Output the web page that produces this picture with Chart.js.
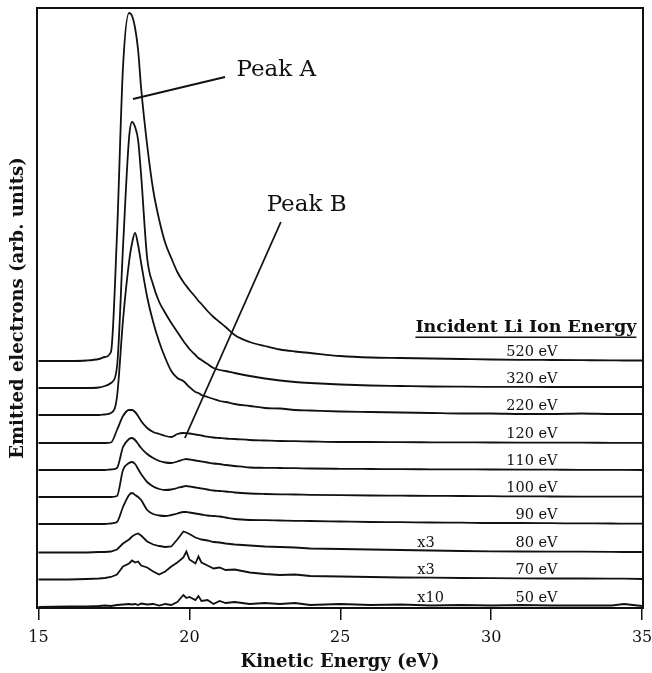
<!DOCTYPE html>
<html>
<head>
<meta charset="utf-8">
<script src="https://cdn.jsdelivr.net/npm/chart.js@4.4.1/dist/chart.umd.min.js"></script>
<style>
  body { margin: 0; background: #fff; }
  #wrap { width: 652px; height: 673px; }
</style>
</head>
<body>
<div id="wrap"><canvas id="spectra"></canvas></div>
<script>
// kinetic energy grid (eV), shared by every spectrum
var energy = [15, 16, 16.6, 17.0, 17.2, 17.4, 17.6, 17.8, 18.0, 18.1, 18.2, 18.3, 18.4, 18.6, 18.8, 19.0, 19.2, 19.4, 19.6, 19.8,
              19.9, 20.0, 20.2, 20.3, 20.4, 20.6, 20.8, 21.0, 21.2, 21.5, 22, 22.5, 23, 23.5, 24, 25, 26, 27, 28, 29,
              30, 31, 32, 33, 34, 34.4, 35];

// incident Li ion energies, top to bottom
var ionLabels = ['520 eV', '320 eV', '220 eV', '120 eV', '110 eV', '100 eV', '90 eV', '80 eV', '70 eV', '50 eV'];
var scaleLabels = ['', '', '', '', '', '', '', 'x3', 'x3', 'x10'];
// waterfall offset of each spectrum (arb. units)
var offsets = [247, 220, 193, 165, 138, 111, 84, 55.5, 28.5, 1];
// smooth traces get a monotone curve, noisy ones stay straight
var smooth = [true, true, true, true, true, true, true, false, false, false];

// emitted electron intensity (arb. units), one array per ion energy
var s520 = [0, 0, 0.5, 2, 4, 9, 126, 294, 348, 345, 333, 311, 273, 216, 171, 141, 118, 103, 89, 79,
            75, 71, 64, 60, 57, 50, 44, 39, 34, 26, 19, 15, 11.5, 9.5, 8, 5, 3.5, 3, 2.5, 2,
            1.5, 1.2, 1, 0.8, 0.6, 0.5, 0.5];
var s320 = [0, 0, 0, 0.5, 2, 5, 21, 141, 250, 266, 261, 248, 213, 130, 103, 86, 75, 65, 56, 47,
            43, 39, 33, 30, 28, 24, 20, 18, 17, 15, 12, 9.5, 7.5, 6, 5, 3.5, 2.5, 2, 1.5, 1.3,
            1.2, 1.1, 1, 1, 1, 1, 1];
var s220 = [0, 0, 0, 0, 0.5, 2, 18, 95, 153, 172, 182, 170, 152, 118, 93, 73, 57, 44, 37, 34,
            31, 28, 23, 22, 20, 18, 16, 14, 13, 11, 9, 7, 6.5, 5, 4.5, 3.5, 3, 2.5, 2, 1.5,
            1.5, 1, 1, 1.5, 1, 1, 1];
var s120 = [0, 0, 0, 0, 0, 0.5, 13, 27, 33, 33, 31, 27, 22, 15, 11, 9, 7, 6, 9, 10,
            9.8, 9.5, 8.5, 8, 7.5, 6.3, 5.5, 5, 4.5, 4, 3, 2.5, 2, 1.8, 1.5, 1, 1, 0.8, 0.7, 0.6,
            0.5, 0.4, 0.3, 0.3, 0.2, 0.2, 0.2];
var s110 = [0, 0, 0, 0, 0, 0.5, 2, 23, 31, 32, 30, 26, 22, 16, 12, 9, 7.5, 7, 8.5, 10.5,
            11, 10.5, 9.5, 9, 8.5, 7.5, 6.5, 6, 5, 4, 2.5, 2.2, 2, 1.8, 1.5, 1.2, 1, 0.8, 0.7, 0.6,
            0.5, 0.4, 0.3, 0.2, 0.2, 0.1, 0];
var s100 = [0, 0, 0, 0, 0, 0, 1, 27, 34, 35, 33, 28, 23, 15, 10.5, 8, 7, 7.5, 9, 10.5,
            11, 10.5, 9.5, 9, 8.5, 7.5, 6.5, 6, 5.5, 4.5, 3.5, 3, 2.7, 2.5, 2.2, 1.8, 1.5, 1.3, 1.1, 1,
            0.8, 0.6, 0.5, 0.4, 0.3, 0.3, 0.3];
var s90  = [0, 0, 0, 0, 0, 0.5, 2, 17, 29, 31, 29, 27, 24, 14, 10, 8.5, 8, 9, 10.5, 12,
            12, 11.5, 10.5, 10, 9.5, 8.5, 8, 7.5, 6.5, 5, 4, 3.8, 3.5, 3.2, 3, 2.5, 2, 1.8, 1.5, 1.3,
            1, 1, 0.8, 0.6, 0.5, 0.4, 0.3];
var s80  = [0, 0, 0, 0.5, 0.5, 1, 3, 9, 13, 16, 18, 19, 17, 11, 8, 6.5, 5.5, 6, 13, 21,
            20, 18.5, 15, 14, 13, 12, 10.5, 10, 9, 8, 7, 6, 5.5, 5, 4, 3.5, 3, 2.5, 2, 1.5,
            1.2, 1, 0.8, 0.8, 0.6, 0.5, 0.5];
var s70  = [0, 0, 0.5, 1, 1.5, 2.5, 5, 13, 16, 19, 17, 18, 14, 12, 8, 5, 8, 13, 17, 22,
            28, 20, 16, 23, 17, 14, 11, 12, 9.5, 10, 7, 5.5, 4.5, 5, 3.5, 3, 2.5, 2, 1.8, 1.5,
            1.3, 1.2, 1, 1, 0.8, 0.8, 0.5];
var s50  = [0, 0.5, 0.5, 1, 1.5, 1, 2, 2.5, 3, 2.5, 3, 2, 3.5, 2.5, 3, 1.5, 3, 2, 5, 12,
            9, 10, 7, 11, 6, 7, 3, 6, 4, 5, 3, 4, 3, 4, 2, 3, 2, 2.5, 1.5, 2,
            1.5, 2, 1.5, 1.5, 1.5, 3, 1];
var spectra = [s520, s320, s220, s120, s110, s100, s90, s80, s70, s50];

// pointer lines for the two peaks [energy, level]
var peakALine = [[18.13, 509], [21.18, 531]];
var peakBLine = [[19.85, 170], [23.03, 386]];

var serif = '"DejaVu Serif", serif';

var datasets = [];
spectra.forEach(function (s, k) {
    datasets.push({
        label: ionLabels[k],
        data: energy.map(function (e, i) { return { x: e, y: offsets[k] + s[i] }; }),
        borderColor: '#111',
        borderWidth: 1.8,
        pointRadius: 0,
        fill: false,
        cubicInterpolationMode: smooth[k] ? 'monotone' : 'default',
        tension: 0
    });
});
[peakALine, peakBLine].forEach(function (seg) {
    datasets.push({
        data: seg.map(function (p) { return { x: p[0], y: p[1] }; }),
        borderColor: '#111',
        borderWidth: 1.8,
        pointRadius: 0,
        fill: false
    });
});

// text labels on the plot
var labelsPlugin = {
    id: 'labels',
    afterDatasetsDraw: function (chart) {
        var ctx = chart.ctx, x = chart.scales.x, y = chart.scales.y;
        ctx.save();
        ctx.fillStyle = '#111';
        ctx.textBaseline = 'middle';

        ctx.font = '23px ' + serif;
        ctx.textAlign = 'left';
        ctx.fillText('Peak A', x.getPixelForValue(21.56), y.getPixelForValue(538));
        ctx.fillText('Peak B', x.getPixelForValue(22.56), y.getPixelForValue(403));

        ctx.font = 'bold 17.5px ' + serif;
        ctx.textAlign = 'center';
        var hx = x.getPixelForValue(31.15), hy = y.getPixelForValue(281);
        ctx.fillText('Incident Li Ion Energy', hx, hy);
        var w = ctx.measureText('Incident Li Ion Energy').width;
        ctx.fillRect(hx - w / 2, hy + 9.5, w, 1.5);

        ctx.font = '14.5px ' + serif;
        ionLabels.forEach(function (t, k) {
            var py = y.getPixelForValue(offsets[k]) - 9;
            ctx.textAlign = 'right';
            ctx.fillText(t, x.getPixelForValue(32.2), py);
            if (scaleLabels[k]) {
                ctx.textAlign = 'left';
                ctx.fillText(scaleLabels[k], x.getPixelForValue(27.55), py);
            }
        });
        ctx.restore();
    }
};

new Chart(document.getElementById('spectra').getContext('2d'), {
    type: 'line',
    data: { datasets: datasets },
    plugins: [labelsPlugin],
    options: {
        responsive: true,
        maintainAspectRatio: false,
        animation: false,
        layout: { padding: { top: 8, right: 9, left: 8, bottom: 0 } },
        plugins: { legend: { display: false }, tooltip: { enabled: false } },
        scales: {
            x: {
                type: 'linear',
                min: 14.95,
                max: 35.03,
                // fixed axis box, no extra room for the end tick labels
                afterFit: function (s) { s.height = 65; s.paddingLeft = 0; s.paddingRight = 0; },
                ticks: { stepSize: 5, includeBounds: false, color: '#111', padding: 8, maxRotation: 0,
                         font: { family: serif, size: 16 } },
                grid: { drawOnChartArea: false, drawTicks: true, tickLength: 12, color: '#111', lineWidth: 1.5 },
                border: { display: true, color: '#111', width: 2 },
                title: { display: true, text: 'Kinetic Energy (eV)', color: '#111', padding: 0,
                         font: { family: serif, size: 18, weight: 'bold' } }
            },
            y: {
                min: 0,
                max: 600,
                afterFit: function (s) { s.width = 29; },
                ticks: { display: false },
                grid: { display: false, drawTicks: false },
                border: { display: true, color: '#111', width: 2 },
                title: { display: true, text: 'Emitted electrons (arb. units)', color: '#111', padding: 0,
                         font: { family: serif, size: 18, weight: 'bold' } }
            },
            x2: {
                type: 'linear',
                position: 'top',
                afterFit: function (s) { s.height = 0; },
                ticks: { display: false },
                grid: { display: false, drawTicks: false },
                border: { display: true, color: '#111', width: 2 }
            },
            y2: {
                type: 'linear',
                position: 'right',
                afterFit: function (s) { s.width = 0; },
                ticks: { display: false },
                grid: { display: false, drawTicks: false },
                border: { display: true, color: '#111', width: 2 }
            }
        }
    }
});
</script>
</body>
</html>
